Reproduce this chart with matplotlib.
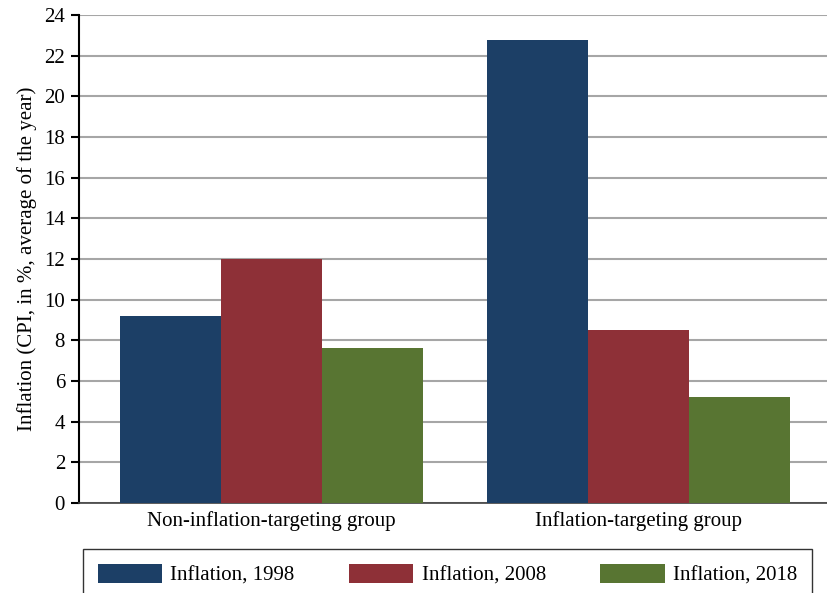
import numpy as np
import matplotlib.pyplot as plt

plt.rcParams.update({
    'font.family': 'Liberation Serif',
    'font.size': 15,
})

groups = ['Non-inflation-targeting group', 'Inflation-targeting group']
series = ['Inflation, 1998', 'Inflation, 2008', 'Inflation, 2018']
values_1998 = [9.2, 22.75]
values_2008 = [12.0, 8.5]
values_2018 = [7.6, 5.2]
colors = ['#1c3f66', '#8e3037', '#587532']

fig = plt.figure(figsize=(8.27, 5.93), dpi=100)
ax = fig.add_axes([0.0955, 0.1518, 0.9045, 0.8229])

x = np.arange(len(groups))
width = 0.275
for i, (vals, label) in enumerate(zip([values_1998, values_2008, values_2018], series)):
    ax.bar(x + (i - 1) * width, vals, width, color=colors[i], label=label, zorder=3)

ax.set_xlim(-0.524, 1.512)
ax.set_ylim(0, 24)
ax.set_yticks(range(0, 25, 2))
ax.set_xticks(x)
ax.set_xticklabels(groups)
ax.tick_params(axis='x', length=0, pad=6)
ax.tick_params(axis='y', direction='out', length=6, width=1.5, color='black', pad=4)
ax.yaxis.grid(True, color='#a6a6a6', linewidth=1.5, zorder=0)
ax.set_axisbelow(True)
for side in ['top', 'right']:
    ax.spines[side].set_visible(False)
ax.spines['left'].set_color('black')
ax.spines['left'].set_linewidth(1.5)
ax.spines['bottom'].set_color('#404040')
ax.spines['bottom'].set_linewidth(1.2)
ax.set_ylabel('Inflation (CPI, in %, average of the year)', labelpad=5)

leg = fig.legend(loc='upper left', bbox_to_anchor=(83 / 827, 1 - 549 / 593),
                 ncol=3, frameon=True, fancybox=False, edgecolor='black',
                 handlelength=3.1, handleheight=1.05, handletextpad=0.4,
                 columnspacing=2.6, borderpad=0.7, borderaxespad=0)
leg.get_frame().set_linewidth(1.0)

fig.savefig('out.png', dpi=100)
